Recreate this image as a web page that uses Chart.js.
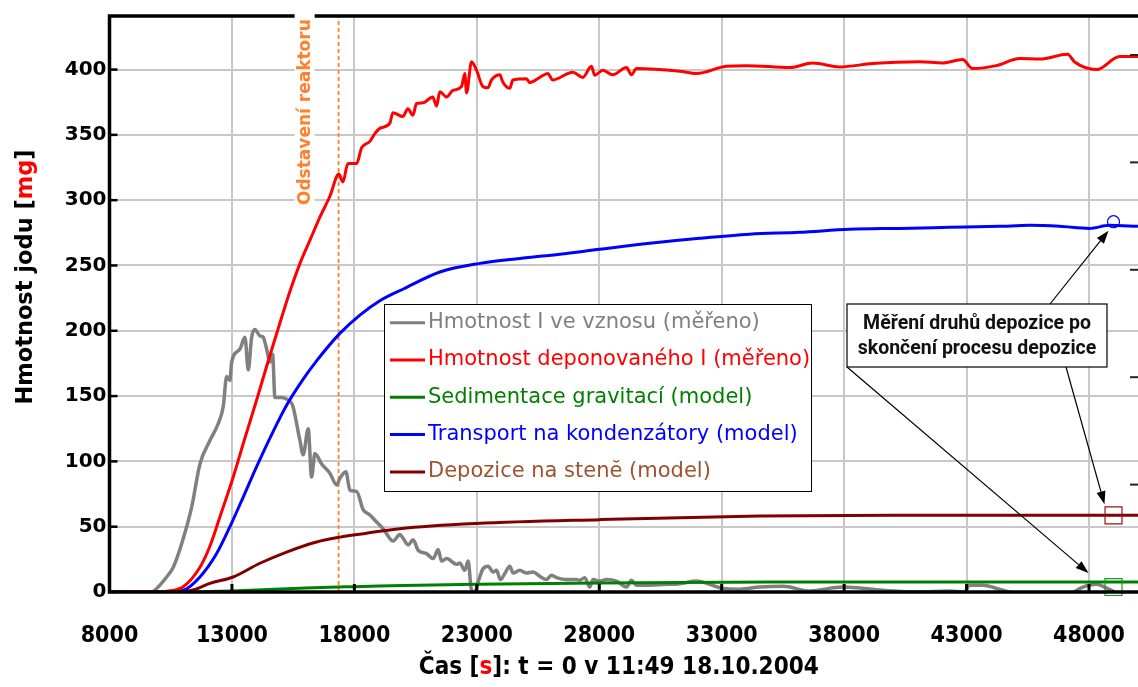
<!DOCTYPE html>
<html><head><meta charset="utf-8">
<script src="https://cdn.jsdelivr.net/npm/chart.js@4/dist/chart.umd.min.js"></script>
<style>html,body{margin:0;padding:0;background:#fff;}#wrap{width:1138px;height:687px;position:relative;}</style>
</head><body><div id="wrap"><canvas id="c" width="1138" height="687"></canvas></div>
<script>
// ---------- DATA ----------
const xTickValues = [8000, 13000, 18000, 23000, 28000, 33000, 38000, 43000, 48000];
const yTickValues = [0, 50, 100, 150, 200, 250, 300, 350, 400];
const rightTickValues = [1, 2, 3, 4, 5];

const seriesLabels = [
  'Hmotnost I ve vznosu (měřeno)',
  'Hmotnost deponovaného I (měřeno)',
  'Sedimentace gravitací (model)',
  'Transport na kondenzátory (model)',
  'Depozice na stenĕ (model)'
];

// measured: iodine mass suspended in atmosphere
const suspendedTime = [8000, 9000, 9700, 9788, 10335, 10604, 10947, 11355, 11694, 12102, 12441, 12645, 12784, 12918, 12988, 13327, 13531, 13666, 13804, 13939, 14143, 14278, 14416, 14551, 14661, 14755, 15029, 15298, 15477, 15776, 15910, 16114, 16253, 16388, 16661, 17000, 17273, 17408, 17653, 17816, 18090, 18359, 18633, 18837, 19175, 19583, 19857, 19992, 20196, 20400, 20604, 20947, 21216, 21420, 21559, 21763, 22171, 22306, 22510, 22645, 22784, 22918, 23053, 23257, 23461, 23665, 23804, 23967, 24143, 24347, 24482, 24755, 25028, 25298, 25571, 25845, 26049, 26253, 26661, 27069, 27204, 27408, 27612, 27747, 28020, 28294, 28702, 29110, 29314, 29518, 29926, 30604, 31286, 31967, 32510, 33053, 33735, 34551, 35502, 36592, 37951, 39584, 40946, 42306, 42918, 43122, 43666, 44482, 45027, 47204, 47747, 48294, 48763, 49250, 50000];
const suspendedMass = [0, 0, 0, 0.5, 11.5, 19, 37, 65, 98, 116, 129, 142, 165, 162, 176, 186, 195, 170, 195, 201, 196, 195, 186, 176, 182, 149, 149, 147, 143, 116, 105, 125, 88, 106, 98, 91, 82, 87, 92, 78, 77, 63, 59, 55, 48.5, 39, 44, 41, 36, 40, 32, 29.4, 25.6, 32.5, 23.7, 25.6, 21.2, 22.2, 16.6, 23.7, 1.3, 0, 7.7, 17.9, 19.7, 15.3, 16.6, 9.5, 14.1, 19.7, 14.5, 16.6, 14.5, 15.3, 12, 9.5, 12.8, 11, 9.5, 9.5, 9, 11, 3.8, 9.5, 8.4, 9.5, 8.4, 3.8, 9, 5.1, 5.1, 5.7, 6.4, 8.4, 5.9, 2.6, 2.1, 3.8, 4.4, 0.8, 3.8, 1.3, 0, 0.8, 0, 5.1, 5.1, 1.3, -1, -1, 3.8, 5.9, 2.6, -1, -1];

// measured: deposited iodine mass
const depositedTime = [8000, 10000, 10335, 11012, 11694, 12100, 12500, 13053, 13500, 14008, 14500, 14959, 15400, 15788, 16200, 16592, 17000, 17365, 17531, 17735, 18090, 18294, 18633, 18837, 19041, 19449, 19571, 19980, 20184, 20388, 20539, 20796, 21204, 21355, 21490, 21763, 22020, 22375, 22510, 22580, 22784, 22988, 23245, 23449, 23600, 23939, 24061, 24347, 24469, 25028, 25163, 25571, 25898, 26102, 26918, 27327, 27682, 27816, 28143, 28551, 29110, 29314, 29518, 31286, 31967, 33184, 34008, 35797, 36716, 37817, 39164, 41082, 42021, 42837, 43245, 44212, 45169, 45986, 47128, 47414, 48312, 49250, 50000];
const depositedMass = [0, 0, 0.5, 4, 19, 35, 57, 88, 116, 147, 178, 206, 232, 252, 270, 287, 303, 320, 314, 328, 328, 340, 345, 351, 355, 359, 367, 364, 370, 365, 374, 374.5, 379, 372, 383, 379, 384, 387, 397, 382, 406, 399.5, 387, 386, 392, 396, 390.5, 385.6, 392, 393, 390, 394, 397, 392, 398, 394, 402.5, 395.6, 399.5, 396, 401.5, 396, 400.8, 398.7, 397, 402.5, 403, 401.5, 405, 402, 404.6, 406, 405, 407.6, 400.8, 403, 408.4, 408, 411.7, 405.8, 400, 410, 410];

// model: gravitational sedimentation
const sedimentTime = [8000, 11000, 12000, 13000, 14000, 15000, 16000, 17000, 18000, 19000, 20000, 23000, 28000, 35000, 42000, 50000];
const sedimentMass = [0, 0, 0.3, 0.8, 1.5, 2.3, 3.0, 3.6, 4.1, 4.6, 5.0, 5.9, 6.9, 7.6, 7.7, 7.7];

// model: transport to condensers
const transportTime = [8000, 10000, 10335, 11012, 11694, 12375, 12918, 13461, 14008, 14686, 15232, 15910, 16457, 17408, 18225, 19041, 20000, 21490, 23122, 24755, 26388, 28020, 30061, 32102, 34143, 36184, 38224, 40265, 42306, 44347, 45571, 46796, 48020, 48837, 50000];
const transportMass = [0, 0, 0.2, 1.3, 11.5, 29.4, 50, 72.7, 96, 123, 143, 163, 177, 198, 212, 223, 232, 245, 251.6, 255.4, 258.6, 262.4, 267, 270.8, 273.9, 275.4, 277.7, 278.4, 279.2, 280, 280.7, 280, 278.4, 280.7, 280];

// model: wall deposition
const wallTime = [8000, 10500, 11000, 11500, 12102, 13053, 14143, 15232, 16457, 17408, 18497, 19857, 22988, 28020, 34551, 40000, 50000];
const wallMass = [0, 0, 0.3, 2, 6.6, 11.5, 22, 30.6, 38.3, 42, 45, 48.5, 52.4, 55.4, 58.2, 58.7, 58.7];

// measurement of deposition types after end of process
const measuredTime = [49000, 49000, 49000];
const measuredMass = [283.5, 58.7, 3.8]; // condensers, wall, sedimentation

const shutdownTime = 17355;

// ---------- STYLE ----------
const COND = "'DejaVu Sans Condensed', 'DejaVu Sans', sans-serif";
const ORANGE = '#ff7f2a';
const pts = (xs, ys) => xs.map((t, i) => ({x: t, y: ys[i]}));
const lineDs = (label, xs, ys, color, width, order, textColor) => ({
  label, data: pts(xs, ys), showLine: true, borderColor: color, backgroundColor: color,
  borderWidth: width, pointRadius: 0, cubicInterpolationMode: 'monotone', order,
  legendText: textColor || color
});

const datasets = [
  lineDs(seriesLabels[0], suspendedTime, suspendedMass, '#808080', 3.5, 6),
  lineDs(seriesLabels[1], depositedTime, depositedMass, '#ff0000', 3, 2),
  lineDs(seriesLabels[2], sedimentTime, sedimentMass, '#008000', 3, 5),
  lineDs(seriesLabels[3], transportTime, transportMass, '#0000ff', 3, 3),
  lineDs(seriesLabels[4], wallTime, wallMass, '#800000', 3, 4, '#a0522d'),
  {label: 'm1', data: [{x: measuredTime[0], y: measuredMass[0]}], pointStyle: 'circle', pointRadius: 6, borderColor: '#0000ff', backgroundColor: 'rgba(0,0,0,0)', borderWidth: 1.2, order: 0, clip: false, showLine: false},
  {label: 'm2', data: [{x: measuredTime[1], y: measuredMass[1]}], pointStyle: 'rect', pointRadius: 12, borderColor: '#a01010', backgroundColor: 'rgba(0,0,0,0)', borderWidth: 1.2, order: 0, clip: false, showLine: false},
  {label: 'm3', data: [{x: measuredTime[2], y: measuredMass[2]}], pointStyle: 'rect', pointRadius: 12, borderColor: '#1a9a1a', backgroundColor: 'rgba(0,0,0,0)', borderWidth: 1.2, order: 0, clip: false, showLine: false},
  {label: 'shutdown', data: [{x: shutdownTime, y: 0}, {x: shutdownTime, y: 441}], showLine: true, borderColor: ORANGE, borderWidth: 1.8, borderDash: [4, 3], pointRadius: 0, order: 7}
];

function drawSegments(ctx, segs, cx, cy, font) {
  ctx.font = font;
  ctx.textAlign = 'left';
  ctx.textBaseline = 'middle';
  const total = segs.reduce((s, g) => s + ctx.measureText(g[0]).width, 0);
  let x = cx - total / 2;
  segs.forEach(g => { ctx.fillStyle = g[1]; ctx.fillText(g[0], x, cy); x += ctx.measureText(g[0]).width; });
}

function arrow(ctx, x1, y1, x2, y2) {
  const ang = Math.atan2(y2 - y1, x2 - x1);
  const L = 13, W = 4.5;
  const bx = x2 - L * Math.cos(ang), by = y2 - L * Math.sin(ang);
  ctx.beginPath(); ctx.moveTo(x1, y1); ctx.lineTo(bx, by); ctx.stroke();
  ctx.beginPath();
  ctx.moveTo(x2, y2);
  ctx.lineTo(bx + W * Math.sin(ang), by - W * Math.cos(ang));
  ctx.lineTo(bx - W * Math.sin(ang), by + W * Math.cos(ang));
  ctx.closePath(); ctx.fill();
}

const decor = {
  id: 'decor',
  afterDatasetsDraw(chart) {
    const {ctx, chartArea: a, scales} = chart;
    const sx = scales.x, sy = scales.y, sy2 = scales.y2;
    ctx.save();
    // frame
    ctx.strokeStyle = '#000'; ctx.lineWidth = 3.5; ctx.lineCap = 'square';
    ctx.beginPath();
    ctx.moveTo(a.right + 2, a.top); ctx.lineTo(a.left, a.top); ctx.lineTo(a.left, a.bottom); ctx.lineTo(a.right + 2, a.bottom);
    ctx.stroke();
    ctx.lineCap = 'butt';
    // inward ticks
    ctx.lineWidth = 2.5;
    yTickValues.forEach(v => { const p = sy.getPixelForValue(v); ctx.beginPath(); ctx.moveTo(a.left, p); ctx.lineTo(a.left + 8, p); ctx.stroke(); });
    ctx.lineWidth = 3;
    xTickValues.forEach(v => { const p = sx.getPixelForValue(v); ctx.beginPath(); ctx.moveTo(p, a.bottom); ctx.lineTo(p, a.bottom - 8); ctx.stroke(); });
    ctx.lineWidth = 2;
    ctx.strokeStyle = '#222';
    rightTickValues.forEach(v => { const p = sy2.getPixelForValue(v); ctx.beginPath(); ctx.moveTo(a.right, p); ctx.lineTo(a.right - 8, p); ctx.stroke(); });

    // shutdown label
    const vx = sx.getPixelForValue(shutdownTime);
    ctx.fillStyle = '#fff';
    ctx.fillRect(vx - 44, a.top - 2, 20, 194);
    ctx.save();
    ctx.translate(vx - 33, a.top + 189);
    ctx.rotate(-Math.PI / 2);
    ctx.fillStyle = ORANGE;
    ctx.font = "bold 17px 'DejaVu Sans'";
    ctx.textAlign = 'left'; ctx.textBaseline = 'middle';
    ctx.fillText('Odstavení reaktoru', 0, 0);
    ctx.restore();

    // legend
    const lg = {left: 384, top: 304, w: 427, h: 187, row: 37.3};
    ctx.fillStyle = '#fff';
    ctx.fillRect(lg.left, lg.top, lg.w, lg.h);
    ctx.strokeStyle = '#000'; ctx.lineWidth = 1;
    ctx.strokeRect(lg.left + 0.5, lg.top + 0.5, lg.w, lg.h);
    ctx.font = "21px 'DejaVu Sans'";
    ctx.textBaseline = 'middle'; ctx.textAlign = 'left';
    for (let i = 0; i < 5; i++) {
      const ds = chart.data.datasets[i];
      const yy = lg.top + 18.7 + i * lg.row;
      ctx.strokeStyle = ds.borderColor; ctx.lineWidth = 3;
      ctx.beginPath(); ctx.moveTo(lg.left + 6, yy); ctx.lineTo(lg.left + 41, yy); ctx.stroke();
      ctx.fillStyle = ds.legendText;
      ctx.fillText(ds.label, lg.left + 44, yy);
    }

    // annotation box
    const bx = {left: 847, top: 304, w: 260, h: 63};
    ctx.fillStyle = '#fff';
    ctx.fillRect(bx.left, bx.top, bx.w, bx.h);
    ctx.strokeStyle = '#000'; ctx.lineWidth = 1.2;
    ctx.strokeRect(bx.left, bx.top, bx.w, bx.h);
    ctx.fillStyle = '#111';
    ctx.font = "bold 19.5px Roboto";
    ctx.textAlign = 'center'; ctx.textBaseline = 'middle';
    ctx.fillText('Měření druhů depozice po', bx.left + bx.w / 2, bx.top + 20);
    ctx.fillText('skončení procesu depozice', bx.left + bx.w / 2, bx.top + 45);

    // arrows
    ctx.strokeStyle = '#000'; ctx.fillStyle = '#000'; ctx.lineWidth = 1.2;
    const mp = i => [sx.getPixelForValue(measuredTime[i]), sy.getPixelForValue(measuredMass[i])];
    let m = mp(0); arrow(ctx, bx.left + 203, bx.top, m[0] - 5, m[1] + 9);
    m = mp(1); arrow(ctx, bx.left + 219, bx.top + bx.h, m[0] - 9, m[1] - 11);
    m = mp(2); arrow(ctx, bx.left, bx.top + bx.h, m[0] - 25, m[1] - 14);

    // axis titles
    drawSegments(ctx, [['Čas [', '#000'], ['s', '#ff0000'], [']: t = 0 v 11:49 18.10.2004', '#000']],
      (a.left + a.right) / 2 - 5, 668, "bold 24px " + COND);
    ctx.save();
    ctx.translate(26, 277);
    ctx.rotate(-Math.PI / 2);
    drawSegments(ctx, [['Hmotnost jodu [', '#000'], ['mg', '#ff0000'], [']', '#000']], 0, 0, "bold 22.5px 'DejaVu Sans'");
    ctx.restore();
    ctx.restore();
  }
};

new Chart(document.getElementById('c'), {
  type: 'scatter',
  data: {datasets},
  options: {
    responsive: false, animation: false, devicePixelRatio: 1, events: [],
    layout: {autoPadding: false, padding: {top: 16, right: 0, bottom: 0, left: 0}},
    plugins: {legend: {display: false}, tooltip: {enabled: false}},
    scales: {
      x: {
        type: 'linear', min: 8000, max: 50000,
        afterBuildTicks: s => { s.ticks = xTickValues.map(v => ({value: v})); },
        afterFit: s => { s.height = 95; s.paddingLeft = 0; s.paddingRight = 0; },
        grid: {color: '#c8c8c8', lineWidth: 2, drawTicks: false},
        border: {display: false},
        ticks: {font: {family: COND, size: 23, weight: 'bold', lineHeight: 3.83}, color: '#000', padding: 0, maxRotation: 0, autoSkip: false, callback: v => String(v)}
      },
      y: {
        type: 'linear', min: 0, max: 441,
        afterBuildTicks: s => { s.ticks = yTickValues.map(v => ({value: v})); },
        afterFit: s => { s.width = 109.5; },
        grid: {color: '#c8c8c8', lineWidth: 2, drawTicks: false},
        border: {display: false},
        ticks: {font: {family: "'DejaVu Sans'", size: 20, weight: 'bold'}, color: '#000', padding: 3, callback: v => String(v)}
      },
      y2: {
        type: 'linear', display: false, position: 'right', min: 0, max: 5.363,
        afterBuildTicks: s => { s.ticks = rightTickValues.map(v => ({value: v})); }
      }
    }
  },
  plugins: [decor]
});
</script></body></html>
